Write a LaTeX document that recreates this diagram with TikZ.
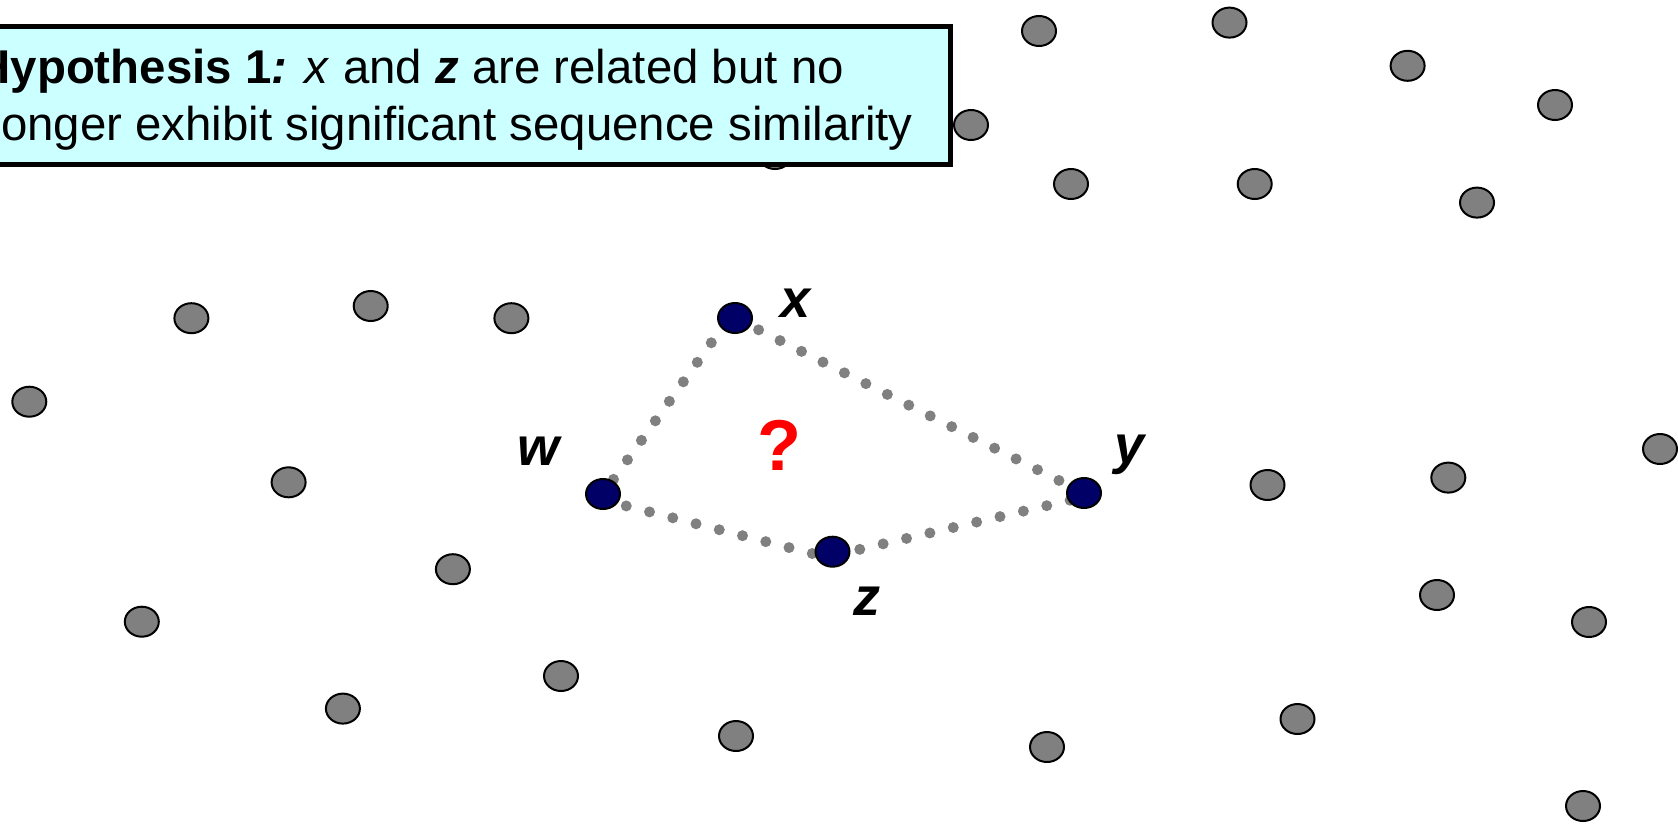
\documentclass[tikz,border=0pt]{standalone}
\usepackage{fontspec}
\setmainfont{Liberation Sans}
\usetikzlibrary{shapes.geometric,backgrounds}
\definecolor{dotgray}{HTML}{808080}
\definecolor{navyblue}{HTML}{000066}
\definecolor{boxcyan}{HTML}{CCFFFF}
\definecolor{qred}{HTML}{FF0000}
\begin{document}
\begin{tikzpicture}[x=1pt,y=-1pt,
  seq/.style={ellipse, draw=black, line width=2pt, fill=dotgray, minimum width=34pt, minimum height=30pt, inner sep=0pt},
  focus/.style={seq, fill=navyblue},
  link/.style={draw=dotgray, line width=11pt, line cap=round, dash pattern=on 0pt off 24pt},
  lbl/.style={font=\fontsize{54}{60}\selectfont\bfseries\itshape, anchor=base, inner sep=0pt},
  hyp/.style={font=\fontsize{47.4}{56}\selectfont, anchor=base east, inner sep=0pt},
  hypbox/.style={draw=black, line width=5pt, fill=boxcyan, minimum width=980pt, minimum height=137.5pt, inner sep=0pt}]
\useasboundingbox (0,0) rectangle (1678,825);

% background sequences
\node[seq] (g01) at (1039,31) {};
\node[seq] (g02) at (1229.5,22.6) {};
\node[seq] (g03) at (1407.6,65.8) {};
\node[seq] (g04) at (1555,105) {};
\node[seq] (g05) at (971,125) {};
\node[seq] (g06) at (1071,184) {};
\node[seq] (g07) at (1254.7,184) {};
\node[seq] (g08) at (1477,202.6) {};
\node[seq] (g09) at (191.4,318.2) {};
\node[seq] (g10) at (370.7,306) {};
\node[seq] (g11) at (511.4,318.2) {};
\node[seq] (g12) at (29.3,401.7) {};
\node[seq] (g13) at (288.6,482.3) {};
\node[seq] (g14) at (452.9,569.2) {};
\node[seq] (g15) at (141.8,621.7) {};
\node[seq] (g16) at (342.9,708.6) {};
\node[seq] (g17) at (561,676) {};
\node[seq] (g18) at (736,736) {};
\node[seq] (g19) at (1047,747) {};
\node[seq] (g20) at (1267.5,485) {};
\node[seq] (g21) at (1448.3,477.6) {};
\node[seq] (g22) at (1660,449) {};
\node[seq] (g23) at (1437,595) {};
\node[seq] (g24) at (1589,622) {};
\node[seq] (g25) at (1297.5,719) {};
\node[seq] (g26) at (1583,806) {};
\node[seq] (g27) at (775,154) {};

% focus sequences
\node[focus] (nx) at (735,318) {};
\node[focus] (nw) at (603,494) {};
\node[focus] (nz) at (832.5,551.7) {};
\node[focus] (ny) at (1084,493) {};

\begin{pgfonlayer}{background}
\fill[white] (0,0) rectangle (1678,825);
\draw[link, dash phase=6pt] (nw.center) -- ([xshift=-6pt]nx.center);
\draw[link, dash phase=21.6pt] (nx.center) -- (ny.center);
\draw[link] ([yshift=-6pt]nw.center) -- ([yshift=-7pt]nz.center);
\draw[link, dash phase=20pt] ([yshift=-4pt]nz.center) -- ([yshift=-4pt]ny.center);
\end{pgfonlayer}

% labels
\node[lbl] (lx) at (796,317) {x};
\node[lbl] (lw) at (538,465) {w};
\node[lbl] (ly) at (1130,463) {y};
\node[lbl] (lz) at (867,615) {z};
\node[font=\fontsize{72}{80}\selectfont\bfseries, text=qred, anchor=base, inner sep=0pt] (q) at (779,470.7) {?};

% hypothesis box
\node[hypbox] (hb) at (460,95.25) {};
\node[hyp] (h1) at (844,83.3) {\textbf{Hypothesis 1}\textbf{\textit{:}} \textit{x} and \textbf{\textit{z}} are related but no};
\node[hyp] (h2) at (913,140) {longer exhibit significant sequence similarity};
\end{tikzpicture}
\end{document}
